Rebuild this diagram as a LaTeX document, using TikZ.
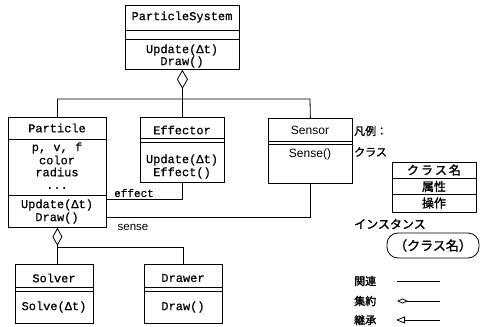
\documentclass[tikz,border=0pt]{standalone}
\usepackage{fontspec}
\usetikzlibrary{arrows.meta}
\newfontfamily\clsfont[FakeBold=0.6]{Liberation Mono}
\newfontfamily\sansfnt{Liberation Sans}
\newfontfamily\jpfont[FakeBold=1.5]{Noto Sans CJK JP}
\begin{document}
\begin{tikzpicture}[x=1pt,y=-1pt,
  box/.style={draw, line width=0.8pt, inner sep=0pt, anchor=north west},
  cls/.style={font=\clsfont\fontsize{12}{12}\selectfont, inner sep=0pt},
  sns/.style={font=\sansfnt\fontsize{12}{12}\selectfont, inner sep=0pt},
  jp/.style={font=\jpfont\fontsize{12}{12}\selectfont, inner sep=0pt},
  jps/.style={font=\jpfont\fontsize{11}{11}\selectfont, inner sep=0pt, anchor=west},
  ln/.style={line width=0.8pt},
  agg/.style={line width=0.8pt, {Diamond[open,length=19pt,width=11pt]}-},
]
\useasboundingbox (0,0) rectangle (483,327);

% ParticleSystem
\node[box, minimum width=114pt, minimum height=64pt] (PS) at (125,5) {};
\draw[ln] ([yshift=-25pt]PS.north west) -- ([yshift=-25pt]PS.north east);
\draw[ln] ([yshift=-34pt]PS.north west) -- ([yshift=-34pt]PS.north east);
\node[cls] (ps1) at (182,17) {ParticleSystem};
\node[cls] (ps2) at (182,50) {Update(Δt)};
\node[cls] (ps3) at (182,62) {Draw()};

% Particle
\node[box, minimum width=98pt, minimum height=110pt] (P) at (8,117) {};
\draw[ln] ([yshift=-22pt]P.north west) -- ([yshift=-22pt]P.north east);
\draw[ln] ([yshift=-78pt]P.north west) -- ([yshift=-78pt]P.north east);
\node[cls] (p1) at (57,128) {Particle};
\node[cls] (p2) at (57,148) {p, v, f};
\node[cls] (p3) at (57,160) {color};
\node[cls] (p4) at (57,172) {radius};
\node[cls] (p5) at (57,188) {...};
\node[cls] (p6) at (57,205) {Update(Δt)};
\node[cls] (p7) at (57,218) {Draw()};

% Effector
\node[box, minimum width=84pt, minimum height=65pt] (E) at (140,117) {};
\draw[ln] ([yshift=-21pt]E.north west) -- ([yshift=-21pt]E.north east);
\draw[ln] ([yshift=-25pt]E.north west) -- ([yshift=-25pt]E.north east);
\node[cls] (e1) at (182,130) {Effector};
\node[cls] (e2) at (182,160) {Update(Δt)};
\node[cls] (e3) at (182,173) {Effect()};

% Sensor
\node[box, minimum width=84pt, minimum height=65pt] (S) at (268,118) {};
\draw[ln] ([yshift=-23pt]S.north west) -- ([yshift=-23pt]S.north east);
\draw[ln] ([yshift=-26pt]S.north west) -- ([yshift=-26pt]S.north east);
\node[sns] (s1) at (310,130) {Sensor};
\node[sns] (s2) at (310,154) {Sense()};

% Solver
\node[box, minimum width=78pt, minimum height=59pt] (Sv) at (15,264) {};
\draw[ln] ([yshift=-23pt]Sv.north west) -- ([yshift=-23pt]Sv.north east);
\draw[ln] ([yshift=-27pt]Sv.north west) -- ([yshift=-27pt]Sv.north east);
\node[cls] (sv1) at (54,278) {Solver};
\node[cls] (sv2) at (54,307) {Solve(Δt)};

% Drawer
\node[box, minimum width=78pt, minimum height=59pt] (Dw) at (144,264) {};
\draw[ln] ([yshift=-23pt]Dw.north west) -- ([yshift=-23pt]Dw.north east);
\draw[ln] ([yshift=-27pt]Dw.north west) -- ([yshift=-27pt]Dw.north east);
\node[cls] (dw1) at (183,278) {Drawer};
\node[cls] (dw2) at (183,307) {Draw()};

% connectors
\coordinate (busR) at (310,99);
\coordinate (busB) at (57,247);
\draw[agg] (PS.south) -- (PS.south |- busR);
\draw[ln] (P.north) |- (busR) -- (S.north);
\draw[ln] (E.north) -- (E.north |- busR);
\draw[ln] ([yshift=-82pt]P.north east) -| (E.south);
\draw[ln] ([yshift=-100pt]P.north east) -| (S.south);
\node[font=\clsfont\fontsize{11}{11}\selectfont, inner sep=0pt] (lbe) at (134,193) {effect};
\node[sns, font=\sansfnt\fontsize{11.5}{11.5}\selectfont] (lbs) at (133,227) {sense};
\draw[agg, {Diamond[open,length=18pt,width=10pt]}-] (P.south) -- (P.south |- Sv.north);
\draw[ln] (busB) -| (Dw.north);

% legend
\node[jps] (lg1) at (354,131) {凡例：};
\node[jps] (lg2) at (354,152) {クラス};
\node[box, minimum width=84pt, minimum height=50pt] (LC) at (392,162) {};
\draw[ln] ([yshift=-16pt]LC.north west) -- ([yshift=-16pt]LC.north east);
\draw[ln] ([yshift=-32pt]LC.north west) -- ([yshift=-32pt]LC.north east);
\node[jp] (lc1) at (434,170) {ク\,ラ\,ス\,名};
\node[jp] (lc2) at (434,186.5) {属性};
\node[jp] (lc3) at (434,203) {操作};
\node[jps, font=\jpfont\fontsize{12}{12}\selectfont] (lg3) at (354,224) {インスタンス};
\node[draw, line width=0.8pt, rounded corners=11pt, minimum width=92pt, minimum height=25pt, jp, font=\jpfont\fontsize{13}{13}\selectfont] (inst) at (433,245.5) {（クラス名）};

\node[jps] (lr1) at (354,281) {関連};
\node[jps] (lr2) at (354,301) {集約};
\node[jps] (lr3) at (354,320) {継承};
\coordinate (a1) at (397,281); \coordinate (b1) at (440,281);
\coordinate (a2) at (397,301); \coordinate (b2) at (440,301);
\coordinate (a3) at (396,320); \coordinate (b3) at (440,320);
\draw[ln] (a1) -- (b1);
\draw[ln, {Diamond[open,length=11pt,width=5pt]}-] (a2) -- (b2);
\draw[ln, {Triangle[open,length=9pt,width=7pt]}-] (a3) -- (b3);
\end{tikzpicture}
\end{document}
